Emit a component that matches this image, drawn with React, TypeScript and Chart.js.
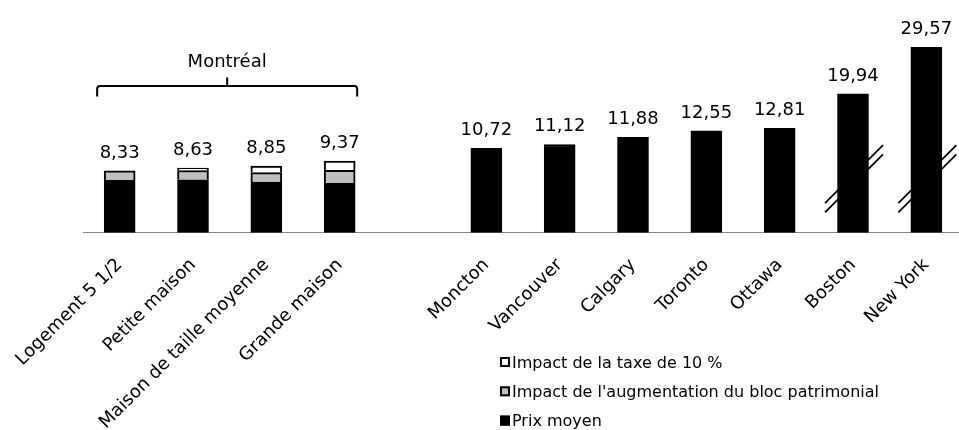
import React, { useEffect, useRef } from 'react';
import { Chart, registerables } from 'chart.js';

Chart.register(...registerables);

// ---- Data ----
const categories = [
  'Logement 5 1/2',
  'Petite maison',
  'Maison de taille moyenne',
  'Grande maison',
  '',
  'Moncton',
  'Vancouver',
  'Calgary',
  'Toronto',
  'Ottawa',
  'Boston',
  'New York',
];

// plotted heights (Boston and New York are shown with an axis break)
const prixMoyen = [7.35, 7.4, 7.16, 7.02, null, 10.72, 11.12, 11.88, 12.55, 12.81, 16.46, 21.37];
const impactBloc = [0.98, 0.98, 1.0, 1.37, null, null, null, null, null, null, null, null];
const impactTaxe = [null, 0.25, 0.69, 0.98, null, null, null, null, null, null, null, null];

// values written above the bars
const totaux = [8.33, 8.63, 8.85, 9.37, null, 10.72, 11.12, 11.88, 12.55, 12.81, 19.94, 29.57];

// bars drawn with a break mark
const coupures = [false, false, false, false, false, false, false, false, false, false, true, true];
const niveauCoupure = 7.4;

const seriesLabels = {
  prix: 'Prix moyen',
  bloc: "Impact de l'augmentation du bloc patrimonial",
  taxe: 'Impact de la taxe de 10 %',
};

const groupe = { label: 'Montréal', from: 0, to: 3 };

const Y_MIN = 1.84;
const Y_MAX = 26.35;

const FONT = "'DejaVu Sans', sans-serif";

const fmt = (v: number) => v.toFixed(2).replace('.', ',');

const decorPlugin = {
  id: 'decor',
  afterDatasetsDraw(chart: any) {
    const ctx = chart.ctx;
    const yScale = chart.scales.y;
    const metas = [0, 1, 2].map((d) => chart.getDatasetMeta(d));

    ctx.save();
    // value labels
    ctx.fillStyle = '#000';
    ctx.font = `18px ${FONT}`;
    ctx.textAlign = 'center';
    ctx.textBaseline = 'alphabetic';
    totaux.forEach((t, i) => {
      if (t == null) return;
      let top = Infinity;
      let x = 0;
      metas.forEach((m) => {
        const el = m.data[i];
        const raw = chart.data.datasets[m.index].data[i];
        if (el && raw != null) {
          top = Math.min(top, el.y);
          x = el.x;
        }
      });
      if (top === Infinity) return;
      ctx.fillText(fmt(t), x, top - 13);
    });

    // break marks
    ctx.strokeStyle = '#000';
    ctx.lineWidth = 1.7;
    const yc = yScale.getPixelForValue(niveauCoupure);
    coupures.forEach((c, i) => {
      if (!c) return;
      const el = metas[0].data[i];
      if (!el) return;
      [-4.7, 4.7].forEach((off) => {
        ctx.beginPath();
        ctx.moveTo(el.x - 28, yc + off + 28);
        ctx.lineTo(el.x + 30, yc + off - 30);
        ctx.stroke();
      });
    });

    // Montréal bracket
    const b0 = metas[0].data[groupe.from];
    const b1 = metas[0].data[groupe.to];
    if (b0 && b1) {
      const left = b0.x - b0.width / 2 - 7;
      const right = b1.x + b1.width / 2 + 2;
      const mid = (left + right) / 2;
      const yh = 86;
      const r = 3;
      ctx.lineWidth = 2;
      ctx.beginPath();
      ctx.moveTo(left, yh + 10.5);
      ctx.lineTo(left, yh + r);
      ctx.quadraticCurveTo(left, yh, left + r, yh);
      ctx.lineTo(right - r, yh);
      ctx.quadraticCurveTo(right, yh, right, yh + r);
      ctx.lineTo(right, yh + 10.5);
      ctx.stroke();
      ctx.beginPath();
      ctx.moveTo(mid, yh);
      ctx.lineTo(mid, yh - 8.5);
      ctx.stroke();
      ctx.font = `18px ${FONT}`;
      ctx.textAlign = 'center';
      ctx.fillText(groupe.label, mid, 66.5);
    }

    // legend (reverse stacking order)
    const ds = chart.data.datasets;
    const order = [2, 1, 0];
    ctx.font = `16px ${FONT}`;
    ctx.textAlign = 'left';
    ctx.textBaseline = 'alphabetic';
    order.forEach((d, k) => {
      const base = 367.5 + k * 29.3;
      const sx = 500;
      const sy = base - 10.5;
      ctx.fillStyle = ds[d].backgroundColor;
      ctx.fillRect(sx, sy, 10, 10);
      ctx.strokeStyle = '#000';
      ctx.lineWidth = 2;
      ctx.strokeRect(sx + 1, sy + 1, 8, 8);
      ctx.fillStyle = '#000';
      ctx.fillText(ds[d].label, sx + 12, base);
    });
    ctx.restore();
  },
};

export default function App() {
  const ref = useRef<HTMLCanvasElement | null>(null);

  useEffect(() => {
    if (!ref.current) return;
    const chart = new Chart(ref.current, {
      type: 'bar',
      data: {
        labels: categories,
        datasets: [
          {
            label: seriesLabels.prix,
            data: prixMoyen,
            backgroundColor: '#000000',
            borderColor: '#000000',
            borderWidth: 2,
          },
          {
            label: seriesLabels.bloc,
            data: impactBloc,
            backgroundColor: '#bfbfbf',
            borderColor: '#000000',
            borderWidth: 2,
          },
          {
            label: seriesLabels.taxe,
            data: impactTaxe,
            backgroundColor: '#ffffff',
            borderColor: '#000000',
            borderWidth: 2,
          },
        ] as any,
      },
      options: {
        animation: false,
        responsive: false,
        devicePixelRatio: 1,
        layout: { padding: { left: 83, right: 0, top: 0, bottom: 0 } },
        datasets: { bar: { barThickness: 31 } } as any,
        plugins: {
          legend: { display: false },
          tooltip: { enabled: false },
        },
        scales: {
          x: {
            stacked: true,
            grid: { display: false, drawTicks: false },
            border: { display: true, color: '#868686', width: 1 },
            ticks: {
              autoSkip: false,
              minRotation: 45,
              maxRotation: 45,
              color: '#000',
              padding: 22,
              font: { family: FONT, size: 18 },
            },
            afterFit: (scale: any) => {
              scale.height = 197.5;
              scale.paddingLeft = 0;
              scale.paddingRight = 0;
            },
          },
          y: {
            stacked: true,
            display: false,
            min: Y_MIN,
            max: Y_MAX,
          },
        },
      },
      plugins: [decorPlugin],
    });
    return () => chart.destroy();
  }, []);

  return (
    <div style={{ position: 'absolute', left: 0, top: 0, width: 959, height: 430, overflow: 'hidden' }}>
      <canvas ref={ref} width={963} height={430} style={{ display: 'block' }} />
    </div>
  );
}
